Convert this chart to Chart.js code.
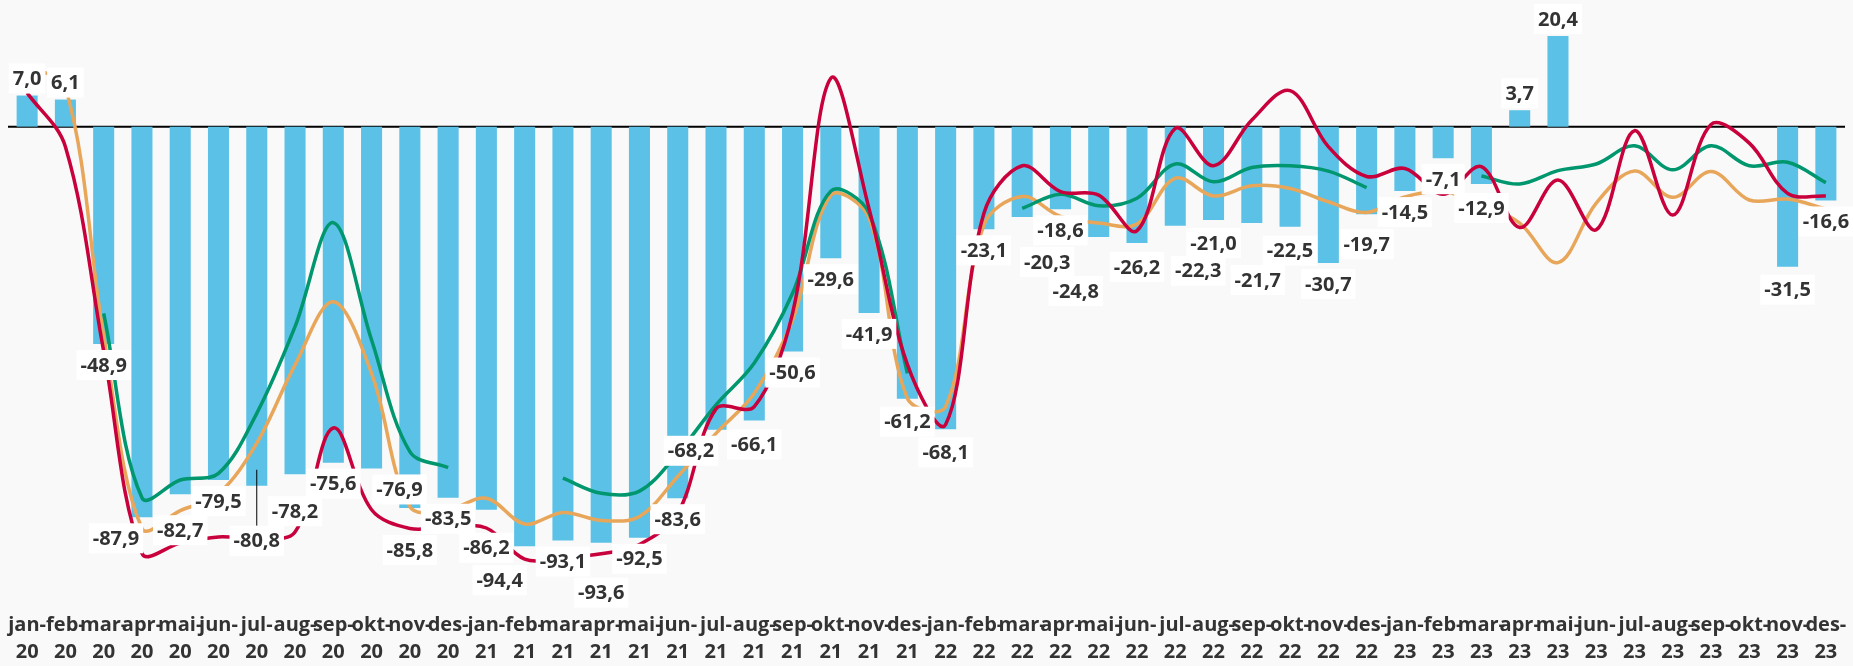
<!DOCTYPE html>
<html>
<head>
<meta charset="utf-8">
<script src="https://cdn.jsdelivr.net/npm/chart.js@4.4.1/dist/chart.umd.min.js"></script>
<style>
  html, body { margin: 0; padding: 0; background: #f9f9f9; }
  #wrap { width: 1853px; height: 666px; position: relative; }
</style>
</head>
<body>
<div id="wrap"><canvas id="chart"></canvas></div>
<script>
const months = ['jan', 'feb', 'mar', 'apr', 'mai', 'jun', 'jul', 'aug', 'sep', 'okt', 'nov', 'des']
const years = ['20', '21', '22', '23']
// two-line tick labels: "jan-" / "20"
const categories = years.flatMap(y => months.map(m => [m + '-', y]))

const total = [
    7.0, 6.1, -48.9, -87.9, -82.7, -79.5, -80.8, -78.2, -75.6, -76.9, -85.8, -83.5,
    -86.2, -94.4, -93.1, -93.6, -92.5, -83.6, -68.2, -66.1, -50.6, -29.6, -41.9, -61.2,
    -68.1, -23.1, -20.3, -18.6, -24.8, -26.2, -22.3, -21.0, -21.7, -22.5, -30.7, -19.7,
    -14.5, -7.1, -12.9, 3.7, 20.4, null, null, null, null, null, -31.5, -16.6
]
const redSeries = [
    7.6, -4.5, -50.5, -96.0, -93.7, -92.3, -92.6, -91.2, -67.8, -86.2, -90.4, -90.0,
    -90.3, -97.3, -97.0, -96.1, -94.0, -87.0, -63.5, -63.0, -42.0, 10.9, -18.5, -53.5,
    -67.0, -19.5, -8.8, -14.6, -15.4, -23.4, -0.4, -8.8, 1.5, 8.1, -4.5, -11.2,
    -9.4, -15.2, -9.0, -22.7, -12.0, -23.2, -0.9, -19.9, 0.5, -3.7, -15.0, -15.6
]
const orangeSeries = [
    13.5, 9.0, -47.0, -90.4, -86.4, -82.6, -71.2, -53.6, -39.4, -55.5, -85.5, -86.2,
    -83.6, -89.4, -86.8, -88.6, -87.7, -78.7, -69.0, -60.0, -43.5, -15.4, -20.6, -61.1,
    -63.0, -22.1, -15.7, -20.2, -21.7, -21.9, -11.6, -15.6, -13.3, -13.9, -16.9, -19.3,
    -15.8, -14.6, -17.5, -21.7, -30.6, -17.2, -10.0, -15.9, -10.1, -16.5, -16.3, -18.5
]
const greenSeries = [
    null, null, -42.0, -83.5, -79.5, -78.0, -64.5, -45.0, -21.6, -48.0, -73.1, -76.7,
    null, null, -79.1, -82.5, -82.0, -73.5, -62.6, -53.2, -37.5, -14.5, -19.5, -55.5,
    null, null, -18.4, -15.2, -17.8, -16.1, -8.4, -12.4, -9.2, -8.8, -10.0, -13.7,
    null, null, -11.1, -12.9, -9.9, -8.4, -4.3, -9.7, -4.3, -8.8, -8.0, -12.6
]

// hand-moved data labels: index -> [dx, dy, leader line]
const labelNudge = {
    3: [-26, 0], 4: [0, 15], 6: [0, 34, true], 7: [0, 16], 9: [28, 0], 10: [0, 21],
    12: [0, 17], 13: [-25, 13], 15: [0, 29], 18: [-25, 0], 19: [0, 3], 23: [0, 2],
    24: [0, 2], 26: [25, 24], 28: [-23, 33], 29: [0, 3], 30: [23, 24], 31: [0, 2],
    32: [6, 36], 33: [0, 3], 35: [0, 9], 38: [0, 3], 46: [0, 2]
}

const fontFamily = "'Open Sans', 'Noto Sans', sans-serif"

const barLabels = {
    id: 'barLabels',
    beforeDatasetsDraw(chart) {
        const { ctx, chartArea, scales } = chart
        const y0 = scales.y.getPixelForValue(0)
        ctx.save()
        ctx.strokeStyle = '#000'
        ctx.lineWidth = 2
        ctx.beginPath()
        ctx.moveTo(chartArea.left, y0)
        ctx.lineTo(chartArea.right, y0)
        ctx.stroke()
        ctx.restore()
    },
    afterDatasetsDraw(chart) {
        const { ctx } = chart
        const meta = chart.getDatasetMeta(0)
        ctx.save()
        ctx.font = 'bold 20px ' + fontFamily
        ctx.textAlign = 'center'
        ctx.textBaseline = 'middle'
        meta.data.forEach((bar, i) => {
            const v = total[i]
            if (v === null) return
            const [dx, dy, leader] = labelNudge[i] || [0, 0]
            const x = bar.x + dx
            const y = bar.y + (v < 0 ? 21 : -17) + dy
            const text = v.toFixed(1).replace('.', ',')
            const w = ctx.measureText(text).width + 8
            if (leader) {
                ctx.strokeStyle = '#000'
                ctx.lineWidth = 1
                ctx.beginPath()
                ctx.moveTo(bar.x, bar.y - 16)
                ctx.lineTo(bar.x, y - 15)
                ctx.stroke()
            }
            ctx.fillStyle = '#ffffff'
            ctx.fillRect(x - w / 2, y - 15, w, 30)
            ctx.fillStyle = '#333333'
            ctx.fillText(text, x, y + 1)
        })
        ctx.restore()
    }
}

const lineStyle = {
    type: 'line',
    borderWidth: 3.5,
    pointRadius: 0,
    tension: 0.35,
    fill: false
}

new Chart(document.getElementById('chart'), {
    type: 'bar',
    data: {
        labels: categories,
        datasets: [
            {
                label: 'Totalt',
                data: total,
                backgroundColor: '#5bc1e6',
                categoryPercentage: 1,
                barPercentage: 0.55,
                order: 4
            },
            { ...lineStyle, label: 'Oransje', data: orangeSeries, borderColor: '#e8a65a', order: 3 },
            { ...lineStyle, label: 'Grønn', data: greenSeries, borderColor: '#00966e', order: 2 },
            { ...lineStyle, label: 'Rød', data: redSeries, borderColor: '#c8003c', order: 1 }
        ]
    },
    options: {
        responsive: true,
        maintainAspectRatio: false,
        animation: false,
        layout: { padding: { left: 8, right: 8, top: 0, bottom: 0 } },
        plugins: {
            legend: { display: false },
            tooltip: { enabled: false }
        },
        scales: {
            y: {
                display: false,
                min: -106.5,
                max: 28.5
            },
            x: {
                grid: { display: false, drawTicks: false },
                border: { display: false },
                ticks: {
                    autoSkip: false,
                    maxRotation: 0,
                    minRotation: 0,
                    padding: 12,
                    color: '#333333',
                    font: { family: fontFamily, size: 20, weight: 'bold', lineHeight: 1.35 }
                },
                afterFit(scale) {
                    scale.height = 66
                    // keep the plot edge fixed, labels may overflow like the original
                    scale.paddingLeft = 0
                    scale.paddingRight = 0
                }
            }
        }
    },
    plugins: [barLabels]
})
</script>
</body>
</html>
